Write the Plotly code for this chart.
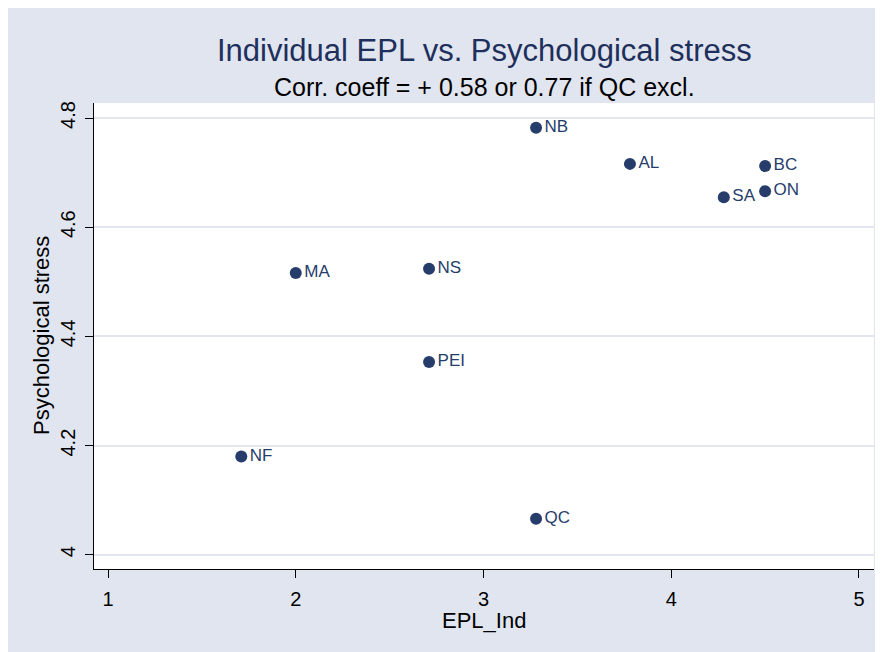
import plotly.graph_objects as go

provinces = ["NB", "AL", "BC", "ON", "SA", "MA", "NS", "PEI", "NF", "QC"]
epl_ind = [3.28, 3.78, 4.50, 4.50, 4.28, 2.00, 2.71, 2.71, 1.71, 3.28]
psych_stress = [4.782, 4.716, 4.712, 4.666, 4.655, 4.516, 4.524, 4.353, 4.180, 4.066]

x_ticks = [1, 2, 3, 4, 5]
y_ticks = [4.0, 4.2, 4.4, 4.6, 4.8]
y_tick_labels = ["4", "4.2", "4.4", "4.6", "4.8"]

navy = "#263D6B"
bg = "#E0E5EF"
font = "Liberation Sans, Arial, sans-serif"

fig = go.Figure()
fig.add_trace(go.Scatter(
    x=epl_ind, y=psych_stress, text=provinces,
    mode="markers+text", textposition="middle right",
    marker=dict(size=12, color=navy),
    textfont=dict(family=font, size=17, color=navy),
    showlegend=False, cliponaxis=False,
))

# page offset of the figure in the screenshot (body margin)
OFF = 8
W, H = 883 - OFF, 652 - OFF
L, R, T, B = 94 - OFF, 9, 103 - OFF, 83
pw, ph = W - L - R, H - T - B

def px_x(p):
    return (p - OFF - L) / pw

def px_y(p):
    return (H - B - (p - OFF)) / ph

fig.update_layout(
    width=W, height=H,
    margin=dict(l=L, r=R, t=T, b=B),
    paper_bgcolor=bg,
    plot_bgcolor="white",
    font=dict(family=font, color="black"),
    annotations=[
        dict(text="Individual EPL vs. Psychological stress", xref="paper", yref="paper",
             x=0.5, y=px_y(51), showarrow=False, xanchor="center", yanchor="middle",
             font=dict(size=31, color="#1F2F5C", family=font)),
        dict(text="Corr. coeff = + 0.58 or 0.77 if QC excl.", xref="paper", yref="paper",
             x=0.5, y=px_y(87), showarrow=False, xanchor="center", yanchor="middle",
             font=dict(size=25, color="black", family=font)),
        dict(text="EPL_Ind", xref="paper", yref="paper",
             x=0.5, y=px_y(620), showarrow=False, xanchor="center", yanchor="middle",
             font=dict(size=22, color="black", family=font)),
        dict(text="Psychological stress", xref="paper", yref="paper",
             x=px_x(41), y=0.5, showarrow=False, xanchor="center", yanchor="middle",
             textangle=-90, font=dict(size=22, color="black", family=font)),
    ],
    xaxis=dict(
        range=[0.9254, 5.080], tickvals=x_ticks, ticktext=[str(v) for v in x_ticks],
        showgrid=False, zeroline=False, showline=True, linecolor="black", linewidth=1,
        ticks="outside", ticklen=8, tickcolor="black", tickwidth=1,
        ticklabelstandoff=4,
        tickfont=dict(size=20, color="black", family=font),
    ),
    yaxis=dict(
        range=[3.974, 4.8275], tickvals=y_ticks, ticktext=y_tick_labels,
        showgrid=True, gridcolor="#E2E6EF", gridwidth=1.5,
        zeroline=False, showline=True, linecolor="black", linewidth=1,
        ticks="outside", ticklen=8, tickcolor="black", tickwidth=1,
        ticklabelstandoff=2,
        tickangle=-90, tickfont=dict(size=20, color="black", family=font),
    ),
)

fig.write_html("out.html")
